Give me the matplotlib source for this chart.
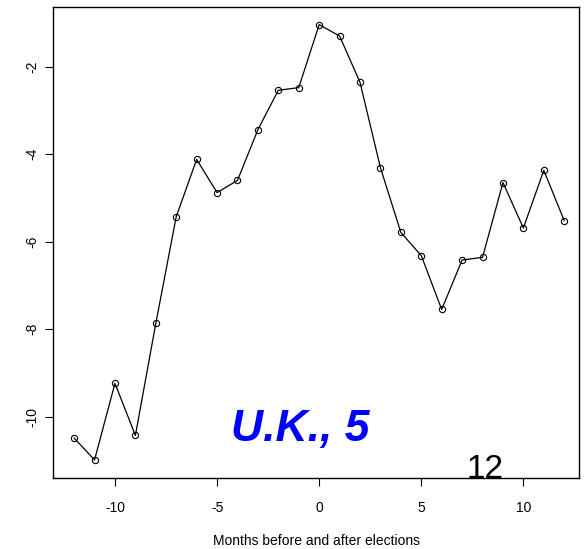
import numpy as np
import matplotlib
matplotlib.use("Agg")
import matplotlib.pyplot as plt

plt.rcParams['font.family'] = ['Liberation Sans', 'DejaVu Sans']

months = [-12, -11, -10, -9, -8, -7, -6, -5, -4, -3, -2, -1, 0,
          1, 2, 3, 4, 5, 6, 7, 8, 9, 10, 11, 12]
values = [-10.49, -10.99, -9.24, -10.43, -7.87, -5.43, -4.12, -4.88, -4.60,
          -3.44, -2.54, -2.48, -1.04, -1.30, -2.36, -4.31, -5.79, -6.32,
          -7.55, -6.42, -6.36, -4.65, -5.69, -4.37, -5.52]
x_ticks = [-10, -5, 0, 5, 10]
y_ticks = [-10, -8, -6, -4, -2]
title_text = "U.K., 5"
corner_text = "12"

fig = plt.figure(figsize=(5.85, 5.49), dpi=100)
ax = fig.add_axes([0.0911, 0.1288, 0.8992, 0.859])

ax.plot(months, values, color='black', lw=0.9, marker='o', ms=4.5,
        mfc='none', mec='black', mew=0.8)

ax.set_xlim(-13.02, 12.74)
ax.set_ylim(-11.41, -0.63)
ax.set_xticks(x_ticks)
ax.set_yticks(y_ticks)
ax.set_xticklabels([str(t) for t in x_ticks])
ax.set_yticklabels([str(t) for t in y_ticks], rotation=90, va='center')
ax.tick_params(direction='out', length=6, width=0.8, labelsize=10)
ax.tick_params(axis='x', pad=10)
ax.tick_params(axis='y', pad=4)
for s in ax.spines.values():
    s.set_linewidth(1.0)

ax.set_xlabel("Months before and after elections", fontsize=10, labelpad=14)

ax.text(-0.95, -10.3, title_text, color='#0000ff', fontsize=32,
        fontweight='bold', fontstyle='italic', ha='center', va='center')
ax.text(8.1, -11.41, corner_text, color='black', fontsize=24,
        ha='center', va='baseline', clip_on=True)

fig.savefig("out.png", dpi=100)
